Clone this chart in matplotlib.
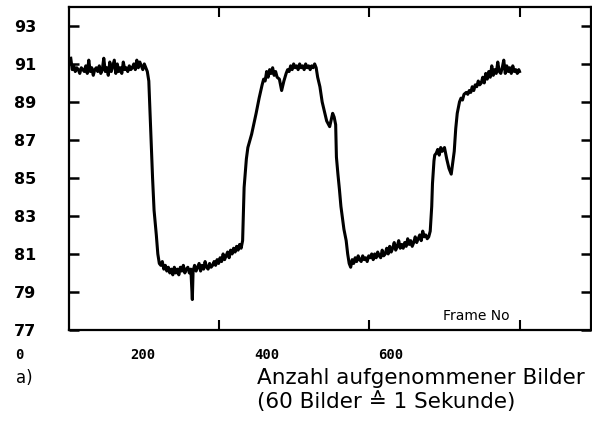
import matplotlib.pyplot as plt
import matplotlib.transforms as mtransforms

frame = [2, 4, 6, 8, 10, 12, 14, 16, 18, 20, 22, 24, 26, 28, 30, 32, 34, 36, 38, 40,
         42, 44, 46, 48, 50, 52, 54, 56, 58, 60, 62, 64, 66, 68, 70, 72, 74, 76, 78, 80,
         82, 84, 86, 88, 90, 92, 94, 96, 98, 100, 102, 104,
         106, 108, 111, 113, 116, 118, 120,
         122, 124, 126, 128, 130, 132, 134, 136, 138, 140, 142, 144, 146, 148, 150, 152,
         154, 156, 158, 160, 162, 164, 165, 167, 169, 171, 173, 175, 177, 179, 181, 183,
         185, 187, 189, 191, 193, 195, 197, 199, 201, 203, 205, 207, 209, 211, 213, 215,
         217, 219, 221, 223, 225, 227, 229, 231,
         233, 236, 238, 243, 249, 253, 257, 259, 261, 263, 265, 267, 269, 271, 273, 275,
         277, 280, 283, 286, 289, 291, 293, 295, 297, 299, 301, 303, 305, 307, 309, 311,
         313, 315, 317, 319, 321, 323, 325, 327, 329, 331,
         334, 337, 340, 343, 347, 351, 353, 355, 356, 358, 360, 362, 364, 366, 369, 371,
         373, 375,
         377, 379, 381, 383, 385, 387, 389, 391, 393, 395, 397, 399, 401, 403, 405, 407,
         409, 411, 413, 415, 417, 419, 421, 423, 425, 427, 429, 431, 433, 435, 437, 439,
         441, 443, 445, 447, 449, 451, 453, 455, 457, 459, 461, 463, 465, 467, 469, 471,
         473, 475, 477, 479, 481,
         483, 484, 486, 487, 489, 491, 493, 495, 497, 500, 503, 506, 509, 511, 513, 515,
         517, 520, 522, 524, 526, 529, 531, 533, 535, 537, 539, 541, 543, 545, 547, 549,
         551, 553, 555, 557, 559, 561, 563, 565, 567, 569, 571, 573, 575, 577, 579, 581,
         583, 585, 587, 589, 591, 593, 595, 597, 599, 600]
value = [91.3, 90.7, 90.9, 90.6, 90.8, 90.7, 90.5, 90.8, 90.7, 90.6, 90.9, 90.5, 91.2, 90.6,
         90.8, 90.4, 90.7, 90.8, 90.6, 90.9, 90.5, 90.7, 91.3, 90.6, 90.8, 90.4, 91.1, 90.6,
         90.9, 91.2, 90.5, 91.0, 90.6, 90.8, 90.5, 91.1, 90.7, 90.8, 90.6, 90.9, 90.7, 90.8,
         91.0, 90.7, 91.2, 90.8, 91.1, 90.9, 90.7, 91.0, 90.8, 90.6,
         90.1, 88.0, 85.0, 83.3, 82.0, 81.0, 80.5,
         80.4, 80.6, 80.2, 80.4, 80.1, 80.3, 80.0, 80.2, 79.9, 80.3, 80.0, 80.2, 79.9, 80.3,
         80.1, 80.4, 80.0, 80.2, 80.3, 80.0, 80.2, 78.6, 80.1, 80.4, 80.1, 80.3, 80.5, 80.1,
         80.4, 80.2, 80.6, 80.3, 80.2, 80.5, 80.3, 80.4, 80.6, 80.4, 80.7, 80.5, 80.8, 80.6,
         81.0, 80.7, 80.9, 81.1, 80.8, 81.2, 81.0, 81.3, 81.1, 81.4, 81.2, 81.5, 81.3, 81.7,
         84.5, 86.0, 86.6, 87.3, 88.4, 89.2, 89.9, 90.2, 90.1, 90.6, 90.3, 90.7, 90.5, 90.8,
         90.4, 90.6, 90.3, 90.2, 89.6, 90.1, 90.5, 90.7, 90.6, 90.9, 90.7, 91.0, 90.8, 90.9,
         90.7, 91.0, 90.8, 90.9, 90.7, 91.0, 90.8, 90.9, 90.7, 90.9, 90.8, 91.0, 90.8, 90.3,
         89.8, 89.0, 88.5, 88.0, 87.7, 88.4, 88.2, 87.8, 86.1, 85.2, 84.4, 83.5, 82.9, 82.3,
         81.7, 81.0, 80.5, 80.3,
         80.7, 80.5, 80.8, 80.6, 80.9, 80.7, 80.6, 80.9, 80.7, 80.8, 80.6, 80.9, 80.8, 81.0,
         80.7, 81.0, 80.8, 81.1, 80.9, 80.8, 81.2, 80.9, 81.0, 81.3, 81.0, 81.4, 81.1, 81.3,
         81.6, 81.2, 81.4, 81.7, 81.3, 81.5, 81.3, 81.6, 81.4, 81.8, 81.5, 81.7, 81.4, 81.6,
         81.9, 81.6, 81.8, 82.0, 81.7, 82.2, 81.9, 82.0, 81.8, 81.9, 82.2,
         83.5, 84.7, 85.9, 86.2, 86.3, 86.5, 86.2, 86.6, 86.4, 86.6, 86.0, 85.5, 85.2, 85.8,
         86.4, 87.6, 88.4, 89.0, 89.2, 89.1, 89.4, 89.5, 89.4, 89.6, 89.5, 89.8, 89.6, 89.9,
         89.8, 90.1, 89.9, 90.0, 90.3, 90.0, 90.5, 90.2, 90.6, 90.3, 90.9, 90.4, 90.7, 90.5,
         91.1, 90.6, 90.5, 90.8, 91.2, 90.5, 90.9, 90.6, 90.8, 90.5, 90.9, 90.6, 90.7, 90.5,
         90.7, 90.6]

yticks = [77, 79, 81, 83, 85, 87, 89, 91, 93]
xticks = [200, 400, 600]
xlabels = [0, 200, 400, 600]

fig = plt.figure(figsize=(5.92, 4.33), dpi=100)
ax = fig.add_axes([0.117, 0.238, 0.881, 0.746])

ax.plot(frame, value, color='black', lw=2.2)
ax.set_xlim(0, 695)
ax.set_ylim(77, 94)

for side in ['left', 'right', 'top', 'bottom']:
    ax.spines[side].set_linewidth(1.6)

ax.set_yticks(yticks)
ax.set_yticklabels([str(v) for v in yticks], fontsize=11.5, fontweight='bold')
ax.tick_params(axis='y', direction='in', length=7, width=1.8, left=True, right=True, pad=24)
ax.set_xticks(xticks)
ax.tick_params(axis='x', direction='in', length=7, width=1.5, top=True, bottom=True,
               labelbottom=False)

# printed labels sit on their own (shifted) scale, as in the scan
def label_pos(s):
    return 0.8247 * s - 66.4

trans = mtransforms.blended_transform_factory(ax.transData, ax.transAxes)
for s in xlabels:
    ax.text(label_pos(s), -0.077, str(s), transform=trans, ha='center', va='center',
            fontsize=10, fontweight='bold', family='DejaVu Sans Mono', clip_on=False)

ax.text(0.78, 0.02, 'Frame No', transform=ax.transAxes, ha='center', va='bottom',
        fontsize=10)

fig.text(0.027, 0.128, 'a)', fontsize=12, va='center')
fig.text(0.434, 0.128, 'Anzahl aufgenommener Bilder', fontsize=15.5, va='center')
fig.text(0.434, 0.072, '(60 Bilder \u2259 1 Sekunde)', fontsize=15.5, va='center')

plt.savefig('out.png', dpi=100)
